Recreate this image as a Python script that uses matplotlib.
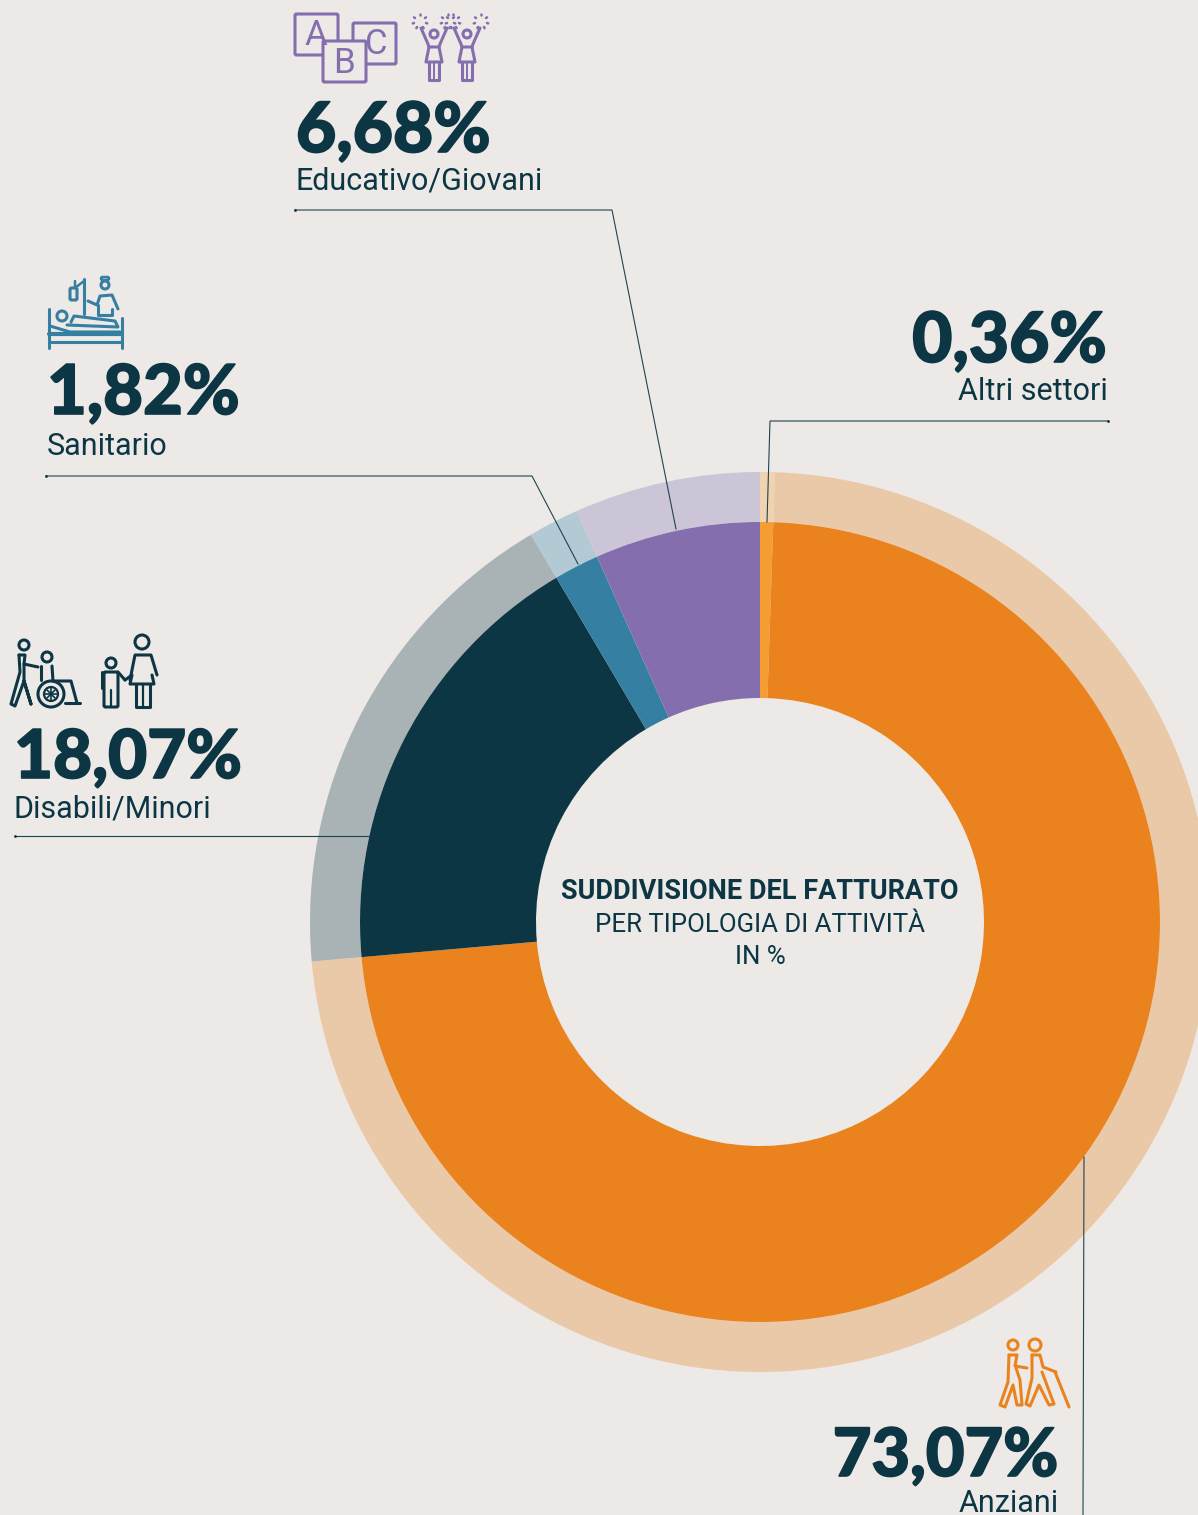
#!/usr/bin/env python3

import matplotlib
matplotlib.use('Agg')
import matplotlib.pyplot as plt
import matplotlib.patheffects as pe
from matplotlib.patches import Circle, FancyBboxPatch

W, H = 1198, 1515
BG = '#ede9e6'
NAVY = '#0d3644'

# clockwise from 12 o'clock
categories = ['Altri settori', 'Anziani', 'Disabili/Minori', 'Sanitario', 'Educativo/Giovani']
labels = ['0,36%', '73,07%', '18,07%', '1,82%', '6,68%']
# slice sizes as measured on the ring (Altri is drawn wider than its label says)
slices = [0.53, 73.07, 17.90, 1.82, 6.68]
colors = ['#f59c32', '#ea831e', '#0d3644', '#357fa2', '#856eae']
pale_colors = ['#f2d3b0', '#eac9a8', '#a9b3b5', '#b3cad4', '#ccc5d8']

plt.rcParams['font.family'] = ['Roboto', 'DejaVu Sans']

fig = plt.figure(figsize=(W / 100, H / 100), dpi=100, facecolor=BG)
ax = fig.add_axes([0, 0, 1, 1])
ax.set_facecolor(BG)

cx, cy = 760, 922


def Y(y):
    return H - y


def pie(radius, width, cols):
    ax.pie(slices, colors=cols, radius=radius, center=(cx, Y(cy)), startangle=90,
           counterclock=False, frame=True,
           wedgeprops={'width': width, 'linewidth': 0})


pie(450, 50, pale_colors)
pie(400, 176, colors)

ax.set_xlim(0, W)
ax.set_ylim(0, H)
ax.set_aspect('equal')
ax.axis('off')


def lead(xs, ys, dot=True):
    ax.plot(xs, [Y(y) for y in ys], color='#1d4450', lw=0.8, solid_joinstyle='miter', zorder=5)
    if dot:
        ax.plot(xs[0], Y(ys[0]), 'o', color=NAVY, ms=2, mew=0, zorder=5)


lead([295, 612, 676], [210, 210, 529])
lead([46, 532, 578], [476, 476, 564])
lead([15, 369], [836, 836])
lead([1108, 770, 767], [421, 421, 522])
lead([1084, 1083], [1157, 1515], dot=False)


def big(x, y, s, ha='left', size=50):
    ax.text(x, Y(y), s, fontsize=size, fontweight='black', color=NAVY, ha=ha, va='baseline',
            family=['Lato', 'DejaVu Sans'],
            path_effects=[pe.withStroke(linewidth=1.2, foreground=NAVY)])


def small(x, y, s, ha='left'):
    ax.text(x, Y(y), s, fontsize=22, color=NAVY, ha=ha, va='baseline')


big(296, 152, labels[4])
small(295, 189, categories[4])
big(47, 414, labels[3], size=49.5)
small(47, 455, categories[3])
big(14, 778, labels[2], size=48.5)
small(14, 818, categories[2])
big(1107, 362, labels[0], ha='right')
small(1108, 400, categories[0], ha='right')
big(1058, 1476, labels[1], ha='right', size=48)
small(1059, 1512, categories[1], ha='right')

ax.text(cx, Y(899), 'SUDDIVISIONE DEL FATTURATO', fontsize=19.5, fontweight='bold', color=NAVY,
        ha='center', va='baseline')
ax.text(cx, Y(932), 'PER TIPOLOGIA DI ATTIVITÀ', fontsize=18.6, color=NAVY, ha='center', va='baseline')
ax.text(cx, Y(964), 'IN %', fontsize=18.6, color=NAVY, ha='center', va='baseline')


# icons: thin outline pictograms, in picture pixels
def ln(col, pts, lw=2.2):
    ax.plot([p[0] for p in pts], [Y(p[1]) for p in pts], color=col, lw=lw,
            solid_capstyle='round', solid_joinstyle='round', zorder=6)


def ring(col, x, y, r, lw=2.2):
    ax.add_patch(Circle((x, Y(y)), r, fill=False, ec=col, lw=lw, zorder=6))


def box(col, x0, y0, x1, y1, lw=2.2, fill=None):
    ax.add_patch(FancyBboxPatch((x0, Y(y1)), x1 - x0, y1 - y0, boxstyle='round,pad=0,rounding_size=1.5',
                                fc=fill if fill else 'none', ec=col, lw=lw, zorder=6))


def girl(col, x, y):
    # x = centre, y = head centre
    ring(col, x, y, 4)
    ln(col, [(x - 13, y - 6), (x - 6, y + 10), (x - 5, y + 13), (x + 5, y + 13), (x + 6, y + 10), (x + 13, y - 6)])
    ln(col, [(x - 5, y + 13), (x - 8, y + 28), (x + 8, y + 28), (x + 5, y + 13)])
    ln(col, [(x - 5, y + 28), (x - 5, y + 46), (x + 5, y + 46), (x + 5, y + 28)])
    ln(col, [(x, y + 28), (x, y + 46)], lw=1.4)
    for sx in (-1, 1):
        cxs, cys = x + sx * 14, y - 13
        for dx, dy in [(0, -6), (-5, -3), (5, -3), (-6, 2), (6, 2), (-3, 6), (3, 6)]:
            ln(col, [(cxs + dx, cys + dy), (cxs + dx * 1.2, cys + dy * 1.2)], lw=1.8)


PURPLE = colors[4]
box(PURPLE, 295, 14, 338, 55)
box(PURPLE, 353, 23, 396, 64)
box(PURPLE, 323, 41, 366, 82, fill=BG)
abc = dict(fontsize=25, color=PURPLE, ha='center', va='baseline', zorder=7)
ax.text(316, Y(45), 'A', **abc)
ax.text(344, Y(73), 'B', **abc)
ax.text(376, Y(54), 'C', **abc)
girl(PURPLE, 434, 34)
girl(PURPLE, 467, 34)

# nurse and bed
BLUE = colors[3]
box(BLUE, 70, 288, 77, 300)
ln(BLUE, [(84, 279), (84, 314)])
ln(BLUE, [(75, 281), (75, 288), (84, 281)], lw=1.8)
ring(BLUE, 105, 285, 4)
box(BLUE, 101, 277, 109, 280, lw=1.8)
ln(BLUE, [(88, 301), (97, 305), (100, 296), (112, 295), (118, 309)])
ln(BLUE, [(98, 305), (98, 315), (112, 315), (112, 309)])
ring(BLUE, 62, 316, 5)
ln(BLUE, [(71, 322), (74, 316), (115, 321), (118, 327), (67, 325)])
ln(BLUE, [(50, 326), (70, 332), (120, 332)])
ln(BLUE, [(49, 309), (49, 348)])
ln(BLUE, [(122, 318), (122, 348)])
ln(BLUE, [(49, 334), (122, 334)], lw=3)
ln(BLUE, [(49, 342), (122, 342)])

# wheelchair, child and adult
ring(NAVY, 24, 645, 5)
ln(NAVY, [(19, 655), (25, 655), (24, 664), (38, 667)])
ln(NAVY, [(19, 655), (20, 672), (11, 704), (15, 706), (24, 681), (31, 704), (24, 681), (24, 664)])
ring(NAVY, 47, 657, 5)
ln(NAVY, [(41, 666), (41, 680)])
ln(NAVY, [(52, 666), (53, 681), (71, 681), (77, 703)])
ln(NAVY, [(65, 703), (80, 703)])
ring(NAVY, 51, 694, 13)
ring(NAVY, 51, 694, 7, lw=1.6)
for dx, dy in [(-6, 0), (6, 0), (0, -6), (0, 6), (-4, -4), (4, 4), (-4, 4), (4, -4)]:
    ln(NAVY, [(51, 694), (51 + dx, 694 + dy)], lw=1.2)
ring(NAVY, 111, 663, 5)
box(NAVY, 104, 672, 118, 707)
ln(NAVY, [(102, 672), (102, 688)])
ln(NAVY, [(118, 672), (125, 680)])
ln(NAVY, [(111, 690), (111, 707)], lw=1.6)
ring(NAVY, 142, 642, 7)
ln(NAVY, [(130, 680), (135, 655), (151, 655), (157, 675)])
ln(NAVY, [(125, 680), (132, 675), (130, 684), (154, 684), (152, 675)])
ln(NAVY, [(136, 684), (136, 707), (150, 707), (150, 684)])
ln(NAVY, [(143, 684), (143, 707)], lw=1.6)

# two elderly people with a cane
ORANGE = colors[1]
ring(ORANGE, 1013, 1345, 5)
ring(ORANGE, 1035, 1345, 6)
ln(ORANGE, [(1009, 1355), (1017, 1355), (1015, 1366), (1027, 1368)])
ln(ORANGE, [(1009, 1355), (1008, 1382), (1000, 1405), (1005, 1407), (1013, 1385), (1017, 1405), (1022, 1405), (1020, 1380), (1016, 1368)])
ln(ORANGE, [(1032, 1355), (1040, 1355), (1043, 1367), (1056, 1372)])
ln(ORANGE, [(1032, 1355), (1032, 1378), (1026, 1404), (1030, 1406), (1039, 1385), (1049, 1405), (1054, 1404), (1042, 1372)])
ln(ORANGE, [(1055, 1372), (1069, 1407)])

fig.savefig('out.png', dpi=100, facecolor=BG)
